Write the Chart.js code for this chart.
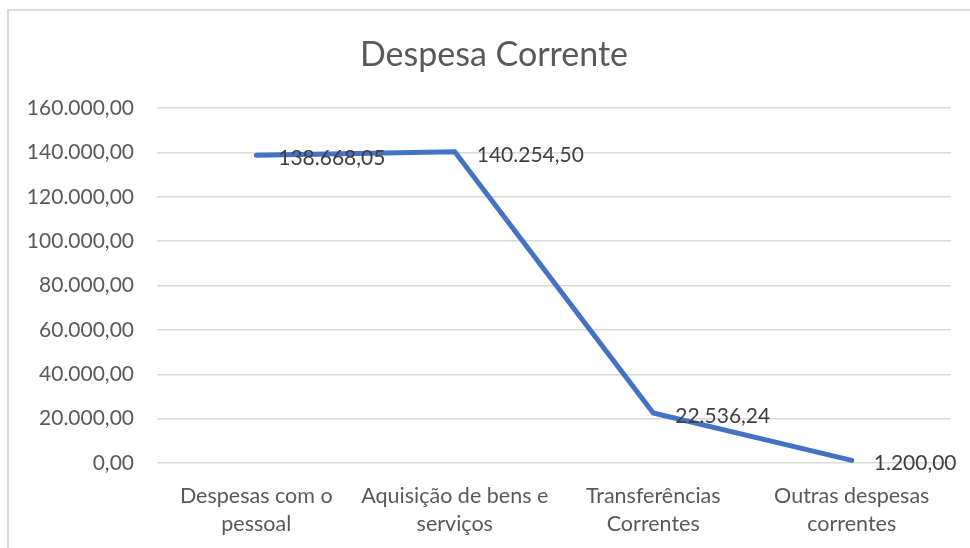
<!DOCTYPE html>
<html><head><meta charset="utf-8">
<script src="https://cdn.jsdelivr.net/npm/chart.js@4/dist/chart.umd.min.js"></script>
<style>
html,body{margin:0;padding:0;background:#fff;overflow:hidden;}
#frame{position:absolute;left:7px;top:9px;width:980px;height:560px;border:2px solid #d9d9d9;box-sizing:border-box;}
#wrap{position:absolute;left:0;top:0;width:970px;height:548px;}
</style></head>
<body>
<div id="frame"></div>
<div id="wrap"><canvas id="c" width="970" height="548"></canvas></div>
<script>
const categories = [["Despesas com o","pessoal"],["Aquisição de bens e","serviços"],["Transferências","Correntes"],["Outras despesas","correntes"]];
const values = [138668.05, 140254.50, 22536.24, 1200.00];
const yTicks = [0,20000,40000,60000,80000,100000,120000,140000,160000];
const chartTitle = "Despesa Corrente";
const FONT = "Lato, 'Open Sans', sans-serif";
function fmt(v){
  const parts = v.toFixed(2).split('.');
  parts[0] = parts[0].replace(/\B(?=(\d{3})+(?!\d))/g,'.');
  return parts[0]+','+parts[1];
}
const labelPlugin = {
  id:'dl',
  afterDraw(chart){
    const ctx = chart.ctx;
    const meta = chart.getDatasetMeta(0);
    ctx.save();
    ctx.font = "21px " + FONT;
    ctx.fillStyle = "#404040";
    ctx.textAlign = "left";
    ctx.textBaseline = "middle";
    meta.data.forEach((pt,i)=>{
      ctx.fillText(fmt(values[i]), pt.x + 22, pt.y + 3);
    });
    ctx.font = "34px " + FONT;
    ctx.fillStyle = "#595959";
    ctx.textAlign = "center";
    ctx.fillText(chartTitle, 494, 55);
    ctx.restore();
  }
};
new Chart(document.getElementById('c'),{
  type:'line',
  data:{labels:categories,datasets:[{data:values,borderColor:'#4472C4',borderWidth:5,pointRadius:0,tension:0,borderCapStyle:'round',borderJoinStyle:'miter',fill:false}]},
  options:{
    responsive:false,animation:false,
    layout:{padding:{left:0,right:19,top:108,bottom:0}},
    plugins:{legend:{display:false},tooltip:{enabled:false},title:{display:false}},
    scales:{
      x:{offset:true,grid:{display:false},border:{display:false},
        ticks:{color:'#595959',font:{family:FONT,size:21.5,lineHeight:1.3},padding:11,maxRotation:0,autoSkip:false},
        afterFit(s){s.height=85;}},
      y:{min:0,max:160000,
        afterBuildTicks(s){s.ticks=yTicks.map(v=>({value:v}));},
        grid:{color:'#d9d9d9',lineWidth:1.5,drawTicks:false},border:{display:false},
        ticks:{color:'#595959',font:{family:FONT,size:21},padding:23,callback:(v)=>fmt(v)},
        afterFit(s){s.width=157;}}
    }
  },
  plugins:[labelPlugin]
});
</script>
</body></html>
